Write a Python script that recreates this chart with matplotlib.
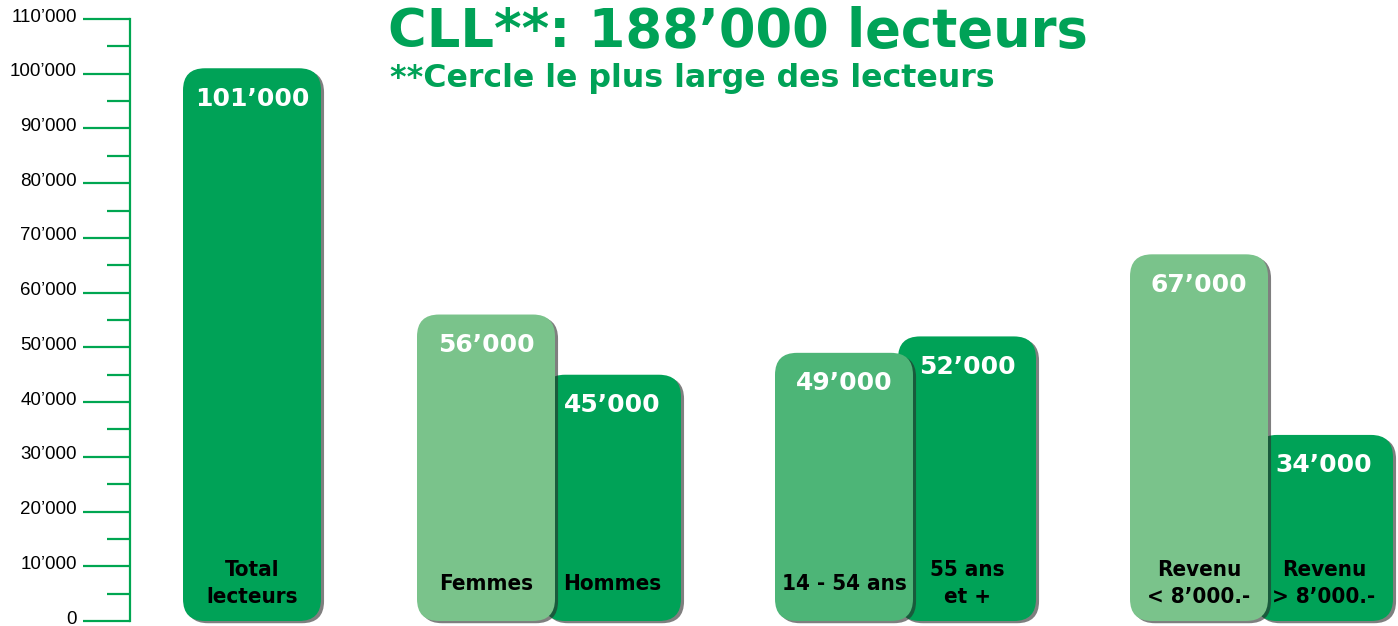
import matplotlib
matplotlib.use("Agg")
import matplotlib.pyplot as plt
from matplotlib.patches import FancyBboxPatch
from matplotlib.ticker import MultipleLocator, FuncFormatter
import matplotlib.patheffects as pe
import matplotlib.transforms as mtransforms

# ---- data ----
categories = ["Total\nlecteurs", "Femmes", "Hommes", "14 - 54 ans", "55 ans\net +",
              "Revenu\n< 8’000.-", "Revenu\n> 8’000.-"]
values = [101000, 56000, 45000, 49000, 52000, 67000, 34000]
value_labels = ["101’000", "56’000", "45’000", "49’000", "52’000", "67’000", "34’000"]
title = "CLL**: 188’000 lecteurs"
subtitle = "**Cercle le plus large des lecteurs"

# ---- layout / style ----
W, H = 1398, 626
DARK = "#00a257"
LIGHT = "#7ac38b"
MID = "#4db577"
AXIS_GREEN = "#00a651"
bar_left_px = [183, 417, 543, 775, 898, 1130, 1255]
bar_width_px = 138
bar_colors = [DARK, LIGHT, DARK, MID, DARK, LIGHT, DARK]
bar_z = [3, 4, 3, 4, 3, 4, 3]
radius_px = 22

fig = plt.figure(figsize=(W / 100, H / 100), dpi=100)
ax_left, ax_right = 130, W
ax_top, ax_bot = 19, 621
ax = fig.add_axes([ax_left / W, 1 - ax_bot / H, (ax_right - ax_left) / W, (ax_bot - ax_top) / H])
ax.set_xlim(ax_left, ax_right)
ax.set_ylim(0, 110000)

yunits_per_px = 110000 / (ax_bot - ax_top)

bars = ax.bar(bar_left_px, values, width=bar_width_px, align="edge", bottom=0)
for rect, col, z, lab, vlab in zip(bars, bar_colors, bar_z, categories, value_labels):
    rect.set_visible(False)
    x, y = rect.get_x(), rect.get_y()
    w, h = rect.get_width(), rect.get_height()
    p = FancyBboxPatch((x, y), w, h,
                       boxstyle=f"round,pad=0,rounding_size={radius_px}",
                       mutation_aspect=yunits_per_px,
                       facecolor=col, edgecolor="none", zorder=z, clip_on=False)
    p.set_path_effects([pe.SimplePatchShadow(offset=(2.2, -1.6), shadow_rgbFace="#2a2a2a", alpha=0.6),
                        pe.Normal()])
    ax.add_patch(p)
    cx = x + w / 2
    ax.annotate(vlab, (cx, y + h), xytext=(0, -22), textcoords="offset points",
                ha="center", va="center", color="white", fontsize=18,
                fontweight="bold", family="DejaVu Sans", zorder=z + 0.5, clip_on=False)
    ax.annotate(lab, (cx, 0), xytext=(0, 27), textcoords="offset points",
                ha="center", va="center", color="black", fontsize=16,
                fontweight="bold", fontstretch="condensed", family="DejaVu Sans",
                linespacing=1.45, zorder=z + 0.5)

# axis styling
for s in ["top", "right", "bottom"]:
    ax.spines[s].set_visible(False)
ax.spines["left"].set_color(AXIS_GREEN)
ax.spines["left"].set_linewidth(1.6)
ax.xaxis.set_visible(False)
ax.yaxis.set_major_locator(MultipleLocator(10000))
ax.yaxis.set_minor_locator(MultipleLocator(5000))
ax.yaxis.set_major_formatter(FuncFormatter(
    lambda v, p: "0" if v == 0 else f"{int(v):,}".replace(",", "’")))
ax.tick_params(axis="y", which="major", length=47 * 0.72, width=1.6, color=AXIS_GREEN,
               pad=4.3, labelsize=13.5)
ax.tick_params(axis="y", which="minor", length=23 * 0.72, width=1.6, color=AXIS_GREEN)
shift = mtransforms.ScaledTranslation(0, 4 / 100, fig.dpi_scale_trans)
for t in ax.get_yticklabels():
    t.set_family(["Liberation Sans", "DejaVu Sans"])
    t.set_transform(t.get_transform() + shift)
ax.patch.set_visible(False)

fig.text(388 / W, 1 - 32 / H, title, ha="left", va="center", color=DARK,
         fontsize=38, fontweight="bold", family="DejaVu Sans")
fig.text(390 / W, 1 - 78 / H, subtitle, ha="left", va="center", color=DARK,
         fontsize=22.8, fontweight="bold", family="DejaVu Sans")

fig.savefig("out.png", dpi=100)
